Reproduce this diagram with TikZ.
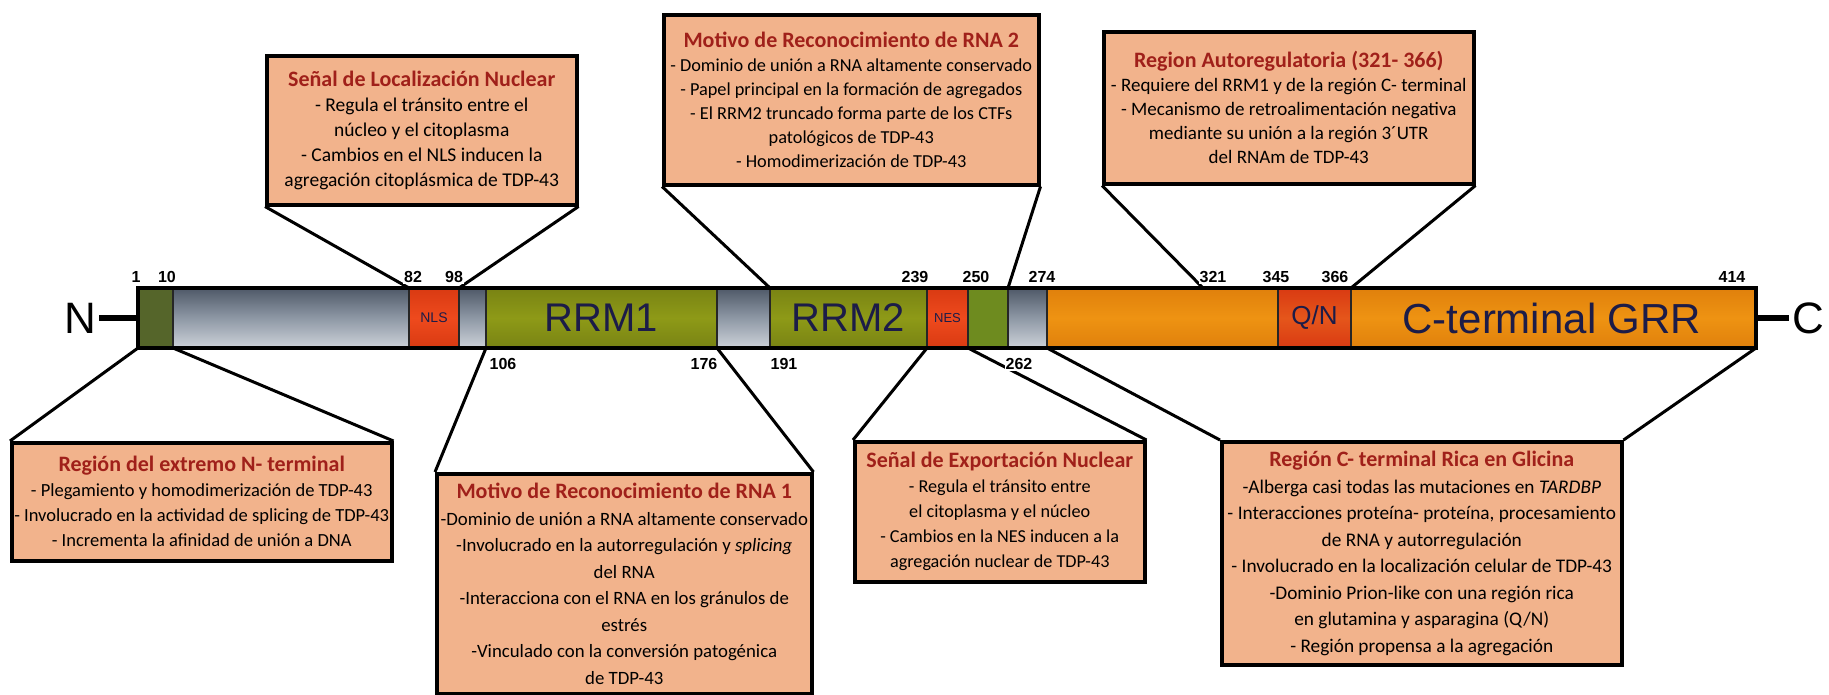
\documentclass[tikz,border=0pt]{standalone}
\usepackage{fontspec}
\setmainfont{Carlito}
\newfontfamily\arialf{Liberation Sans}
\definecolor{boxfill}{HTML}{F2B38C}
\definecolor{ttlred}{HTML}{A0201A}
\definecolor{dkgreen}{HTML}{55652A}
\definecolor{olive}{HTML}{8E9A17}
\definecolor{midgreen}{HTML}{6E8B1F}
\definecolor{graytop}{HTML}{4F5968}
\definecolor{graymid}{HTML}{8E98A5}
\definecolor{graybot}{HTML}{CDD2D9}
\definecolor{redseg}{HTML}{EE4A1D}
\definecolor{redtop}{HTML}{D93A12}
\definecolor{qnred}{HTML}{E5561B}
\definecolor{orangeseg}{HTML}{EE9312}
\definecolor{orangetop}{HTML}{E0800C}
\definecolor{navy}{HTML}{1C1C48}
\newcommand\ttl[1]{{\fontsize{22}{24}\selectfont\bfseries\color{ttlred}#1}}
\begin{document}
\begin{tikzpicture}[x=1pt,y=-1pt,
  seg/.style={rectangle, anchor=north west, inner sep=0pt, outer sep=0pt, minimum height=60pt, draw=black!85, line width=1.2pt},
  grayseg/.style={seg, top color=graytop, bottom color=graybot, middle color=graymid},
  redbox/.style={seg, top color=redtop, bottom color=redtop, middle color=redseg},
  infobox/.style={rectangle, anchor=north west, draw=black, line width=3.5pt, fill=boxfill, inner sep=2pt, align=center},
  conn/.style={line width=3pt, black},
  num/.style={font=\arialf\bfseries\fontsize{16}{16}\selectfont, inner sep=1pt, fill=white},
  dom/.style={font=\arialf\fontsize{40}{40}\selectfont, text=navy},
  term/.style={font=\arialf\fontsize{44}{44}\selectfont, inner sep=3pt}
]
\useasboundingbox (0,0) rectangle (1829,694);
\fill[white] (0,0) rectangle (1829,694);

% ---- bar segments ----
\node[seg, fill=dkgreen, minimum width=35pt] (s1) at (138,288) {};
\node[grayseg, minimum width=236pt] (s2) at (173,288) {};
\node[redbox, minimum width=50pt] (nls) at (409,288) {};
\node[grayseg, minimum width=27pt] (s4) at (459,288) {};
\node[seg, top color=olive!85!black, bottom color=olive!85!black, middle color=olive, minimum width=231pt] (rrm1) at (486,288) {};
\node[grayseg, minimum width=53pt] (s6) at (717,288) {};
\node[seg, top color=olive!85!black, bottom color=olive!85!black, middle color=olive, minimum width=157pt] (rrm2) at (770,288) {};
\node[redbox, minimum width=41pt] (nes) at (927,288) {};
\node[seg, fill=midgreen, minimum width=40pt] (s9) at (968,288) {};
\node[grayseg, minimum width=39pt] (s10) at (1008,288) {};
\node[seg, top color=orangetop, bottom color=orangetop, middle color=orangeseg, minimum width=231pt] (s11) at (1047,288) {};
\node[seg, top color=redtop, bottom color=redtop, middle color=qnred, minimum width=73pt] (qn) at (1278,288) {};
\node[seg, top color=orangetop, bottom color=orangetop, middle color=orangeseg, minimum width=405pt] (grr) at (1351,288) {};
\draw[line width=4pt] (s1.north west) rectangle (grr.south east);
\coordinate (p321) at (1203,288);

% ---- labels inside the bar ----
\node[font=\arialf\fontsize{14}{14}\selectfont, text=navy] (lnls) at (nls.center) {NLS};
\node[font=\arialf\fontsize{13}{13}\selectfont, text=navy] (lnes) at (nes.center) {NES};
\node[font=\arialf\fontsize{26}{26}\selectfont, text=navy] (lqn) at (qn.center) {Q/N};
\node[dom] (lrrm1) at (rrm1.center) {RRM1};
\node[dom] (lrrm2) at (rrm2.center) {RRM2};
\node[dom, font=\arialf\fontsize{42}{42}\selectfont] (lgrr) at (1552,318) {C-terminal GRR};

% ---- termini ----
\node[term] (N) at (80,318) {N};
\node[term] (C) at (1808,318) {C};
\draw[line width=6pt] (N) -- (s1);
\draw[line width=6pt] (grr) -- (C);

% ---- info boxes ----
\node[infobox, minimum width=310pt, minimum height=149pt, font=\fontsize{19.5}{25}\selectfont] (nlsbox) at (265,54) {%
\ttl{Señal de Localización Nuclear}\\
- Regula el tránsito entre el\\
núcleo y el citoplasma\\
- Cambios en el NLS inducen la\\
agregación citoplásmica de TDP-43};

\node[infobox, minimum width=375pt, minimum height=170pt, font=\fontsize{18.3}{24}\selectfont] (rrm2box) at (662,13) {%
\ttl{Motivo de Reconocimiento de RNA 2}\\
- Dominio de unión a RNA altamente conservado\\
- Papel principal en la formación de agregados\\
- El RRM2 truncado forma parte de los CTFs\\
patológicos de TDP-43\\
- Homodimerización de TDP-43};

\node[infobox, minimum width=370pt, minimum height=152pt, font=\fontsize{19}{24}\selectfont] (autobox) at (1102,30) {%
\ttl{Region Autoregulatoria (321- 366)}\\
- Requiere del RRM1 y de la región C- terminal\\
- Mecanismo de retroalimentación negativa\\
mediante su unión a la región 3´UTR\\
del RNAm de TDP-43};

\node[infobox, minimum width=380pt, minimum height=118pt, font=\fontsize{18.5}{25}\selectfont] (ntbox) at (10,441) {%
\ttl{Región del extremo N- terminal}\\
- Plegamiento y homodimerización de TDP-43\\
- Involucrado en la actividad de splicing de TDP-43\\
- Incrementa la afinidad de unión a DNA};

\node[infobox, minimum width=375pt, minimum height=220pt, font=\fontsize{18.8}{26.5}\selectfont] (rrm1box) at (435,472) {%
\ttl{Motivo de Reconocimiento de RNA 1}\\
-Dominio de unión a RNA altamente conservado\\
-Involucrado en la autorregulación y \textit{splicing}\\
del RNA\\
-Interacciona con el RNA en los gránulos de\\
estrés\\
-Vinculado con la conversión patogénica\\
de TDP-43};

\node[infobox, minimum width=290pt, minimum height=140pt, font=\fontsize{18.2}{25}\selectfont] (nesbox) at (853,440) {%
\ttl{Señal de Exportación Nuclear}\\
- Regula el tránsito entre\\
el citoplasma y el núcleo\\
- Cambios en la NES inducen a la\\
agregación nuclear de TDP-43};

\node[infobox, minimum width=400pt, minimum height=223pt, font=\fontsize{19.3}{26.5}\selectfont] (grrbox) at (1220,440) {%
\ttl{Región C- terminal Rica en Glicina}\\
-Alberga casi todas las mutaciones en \textit{TARDBP}\\
- Interacciones proteína- proteína, procesamiento\\
de RNA y autorregulación\\
- Involucrado en la localización celular de TDP-43\\
-Dominio Prion-like con una región rica\\
en glutamina y asparagina (Q/N)\\
- Región propensa a la agregación};

% ---- connectors ----
\draw[conn] (nlsbox.south west) -- (nls.north west);
\draw[conn] (nlsbox.south east) -- (nls.north east);
\draw[conn] (rrm2box.south west) -- (rrm2.north west);
\draw[conn] (rrm2box.south east) -- (s9.north east);
\draw[conn] (autobox.south west) -- (p321);
\draw[conn] (autobox.south east) -- (qn.north east);
\draw[conn] (s1.south west) -- (ntbox.north west);
\draw[conn] (s1.south east) -- (ntbox.north east);
\draw[conn] (rrm1.south west) -- (rrm1box.north west);
\draw[conn] (rrm1.south east) -- (rrm1box.north east);
\draw[conn] (nes.south west) -- (nesbox.north west);
\draw[conn] (nes.south east) -- (nesbox.north east);
\draw[conn] (s11.south west) -- (grrbox.north west);
\draw[conn] (grr.south east) -- (grrbox.north east);

% ---- residue numbers ----
\node[num] (n1) at (136,277) {1};
\node[num] (n10) at (167,277) {10};
\node[num] (n82) at (413,277) {82};
\node[num] (n98) at (454,277) {98};
\node[num] (n239) at (915,277) {239};
\node[num] (n250) at (976,277) {250};
\node[num] (n274) at (1042,277) {274};
\node[num] (n321) at (1213,277) {321};
\node[num] (n345) at (1276,277) {345};
\node[num] (n366) at (1335,277) {366};
\node[num] (n414) at (1732,277) {414};
\node[num] (n106) at (503,364) {106};
\node[num] (n176) at (704,364) {176};
\node[num] (n191) at (784,364) {191};
\node[num] (n262) at (1019,364) {262};
\end{tikzpicture}
\end{document}
